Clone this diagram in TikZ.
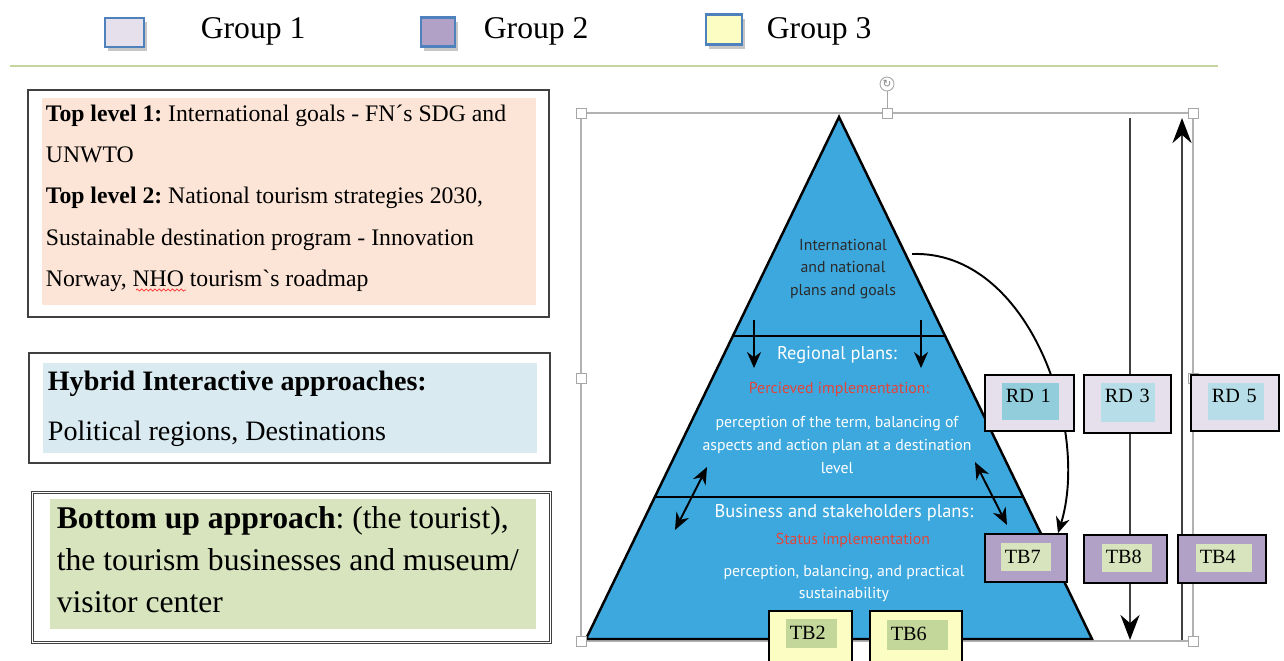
\documentclass[tikz,border=0pt]{standalone}
\usepackage{fontspec}
\setmainfont{Liberation Serif}
\newfontfamily\rawserif{Liberation Serif}[Ligatures=TeXOff]
\newfontfamily\pyrfont{PT Sans}
\newfontfamily\symfont{DejaVu Sans}
\usetikzlibrary{arrows.meta, positioning, calc, shadows, decorations.pathmorphing}
\definecolor{cpyr}{HTML}{3DA8DE}
\definecolor{cred}{HTML}{E2453A}
\definecolor{cdark}{HTML}{2B2A2A}
\definecolor{cgrpone}{HTML}{E5E0EC}
\definecolor{cgrptwo}{HTML}{B2A1C7}
\definecolor{cgrpthree}{HTML}{FCFDC2}
\definecolor{cedge}{HTML}{4F81BD}
\definecolor{crule}{HTML}{C3D69B}
\definecolor{cpeach}{HTML}{FCE4D6}
\definecolor{cice}{HTML}{D9EAF1}
\definecolor{csage}{HTML}{D7E4BD}
\definecolor{cteal}{HTML}{92CDDC}
\definecolor{caqua}{HTML}{B7DEE8}
\definecolor{colive}{HTML}{C4D79B}
\definecolor{cline}{HTML}{404040}
\newdimen\pxu \pxu=0.02cm
\frenchspacing
\tikzset{
  every picture/.style={line width=1pt},
  legendsq/.style={draw=cedge, fill=#1, line width=1.2pt, inner sep=0pt,
    drop shadow={shadow xshift=1.5pt, shadow yshift=-2.5pt, fill=black!50, opacity=0.45}},
  legendtxt/.style={font=\fontsize{18}{20}\selectfont, inner sep=0pt, anchor=base west},
  outerbox/.style={draw=cline, line width=1.1pt, inner sep=0pt},
  fillbox/.style={fill=#1, inner sep=0pt},
  boxtext/.style={inner sep=0pt, anchor=north west, align=left},
  pyrtext/.style={font=\pyrfont\fontsize{9}{13}\selectfont, text=white, align=center, inner sep=0pt},
  pyrhead/.style={pyrtext, font=\pyrfont\fontsize{10.5}{13}\selectfont},
  tagbox/.style={draw=black, line width=1pt, fill=#1, inner sep=0pt},
  tagfill/.style={fill=#1, anchor=north west, inner xsep=4\pxu, inner ysep=2\pxu, align=left,
    font=\fontsize{11.5}{13}\selectfont},
  grip/.style={draw=black!35, fill=white, line width=0.5pt, minimum size=10\pxu, inner sep=0pt},
  downtip/.style={-{Stealth[length=3.2mm, width=2.8mm]}, line width=1.1pt},
  bothtip/.style={{Stealth[length=3.4mm, width=2.8mm]}-{Stealth[length=3.4mm, width=2.8mm]}, line width=1.1pt},
  longarrow/.style={-{Stealth[length=5mm, width=3.8mm, color=black]}, draw=cline, line width=1.6pt},
}

\begin{document}
\begin{tikzpicture}[x=\pxu, y=-\pxu]
  \clip (0,0) rectangle (1284,660);
  % legend
  \node[legendsq=cgrpone, minimum width=39\pxu, minimum height=29\pxu] (sq1) at (124.5,32.5) {};
  \node[legendsq=cgrptwo, minimum width=34\pxu, minimum height=29\pxu] (sq2) at (438,32) {};
  \node[legendsq=cgrpthree, minimum width=36\pxu, minimum height=30\pxu] (sq3) at (724,29.5) {};
  \node[legendtxt] (g1) at (200,38) {Group 1};
  \node[legendtxt] (g2) at (483,38) {Group 2};
  \node[legendtxt] (g3) at (766,38) {Group 3};
  \draw[crule, line width=1.2pt] (10,66) -- (1218,66);

  % left column
  \node[outerbox, minimum width=521\pxu, minimum height=227\pxu] (topbox) at (288.5,203.5) {};
  \node[fillbox=cpeach, minimum width=494\pxu, minimum height=207\pxu] (topfill) at (289,201.5) {};
  \node[boxtext, font=\fontsize{13.5}{23.5}\selectfont] (toptext) at (45,104)
    {\textbf{Top level 1:} International goals - FN´s SDG and\\ UNWTO\\
     \textbf{Top level 2:} National tourism strategies 2030,\\
     Sustainable destination program - Innovation\\
     Norway, NHO tourism{\rawserif`}s roadmap};
  \draw[red!80, line width=0.4pt, decorate, decoration={snake, amplitude=0.6pt, segment length=2.5pt}] (136,290) -- (186,290);
  \node[outerbox, minimum width=521\pxu, minimum height=110\pxu] (hybbox) at (289.5,408) {};
  \node[fillbox=cice, minimum width=494\pxu, minimum height=90\pxu] (hybfill) at (290,408) {};
  \node[boxtext, font=\fontsize{16}{28.5}\selectfont] (hybtext) at (47,370)
    {\textbf{Hybrid Interactive approaches:}\\ Political regions, Destinations};
  \node[outerbox, double=white, double distance=0.6pt, line width=0.7pt,
    minimum width=518\pxu, minimum height=150\pxu] (botbox) at (291.5,567.5) {};
  \node[fillbox=csage, minimum width=486\pxu, minimum height=130\pxu] (botfill) at (293,564) {};
  \node[boxtext, font=\fontsize{18}{23.9}\selectfont] (bottext) at (56,506)
    {\textbf{Bottom up approach}: (the tourist),\\ the tourism businesses and museum/\\ visitor center};

  % selection frame
  \draw[black!30, line width=0.6pt] (581,113) rectangle (1193,641);

  % pyramid
  \coordinate (apex) at (839,117);
  \coordinate (bl) at (586,639);
  \coordinate (br) at (1092,639);
  \draw[fill=cpyr, line width=1.4pt] (apex) -- (br) -- (bl) -- cycle;
  \draw[line width=1.1pt] ($(apex)!0.4195!(bl)$) -- ($(apex)!0.4195!(br)$);
  \draw[line width=1.1pt] ($(apex)!0.728!(bl)$) -- ($(apex)!0.728!(br)$);
  \node[pyrtext, text=cdark] (intl) at (843,269) {International\\ and national\\ plans and goals};
  \node[pyrhead] (regional) at (837,355) {Regional plans:};
  \node[pyrtext, text=cred] (perc) at (839,389) {Percieved implementation:};
  \node[pyrtext] (percbody) at (837,445) {perception of the term, balancing of\\ aspects and action plan at a destination\\ level};
  \node[pyrhead] (business) at (844,513) {Business and stakeholders plans:};
  \node[pyrtext, text=cred] (status) at (853,540) {Status implementation};
  \node[pyrtext] (statbody) at (844,583.5) {perception, balancing, and practical\\ sustainability};

  \coordinate (dl1) at (754,320); \coordinate (dl2) at (754,368);
  \coordinate (dr1) at (921,320); \coordinate (dr2) at (921,368);
  \draw[downtip] (dl1) -- (dl2);
  \draw[downtip] (dr1) -- (dr2);
  \coordinate (bl1) at (707,467); \coordinate (bl2) at (675,530);
  \coordinate (br1) at (975,462); \coordinate (br2) at (1007,525);
  \draw[bothtip] (bl1) -- (bl2);
  \draw[bothtip] (br1) -- (br2);

  % handles of the frame
  \foreach \hx/\hy in {581/113, 887/113, 1193/113, 581/378, 1193/378, 581/641, 1193/641}
    \node[grip] (h-\hx-\hy) at (\hx,\hy) {};
  \node[grip, circle, minimum size=14\pxu] (rot) at (887,84) {\symfont\fontsize{6}{6}\selectfont\textcolor{black!50}{↻}};
  \draw[black!35, line width=0.5pt] (rot) -- (h-887-113);

  % long arrows on the right
  \coordinate (downtop) at (1130,118); \coordinate (downend) at (1130,640);
  \coordinate (upbot) at (1182,640); \coordinate (uptop) at (1182,118);
  \draw[longarrow] (downtop) -- (downend);
  \draw[longarrow] (upbot) -- (uptop);

  % group 2 and group 3 tags
  \node[tagbox=cgrptwo, minimum width=82\pxu, minimum height=48\pxu] (tb7) at (1026,558) {};
  \node[tagfill=csage, text width=42\pxu, text height=19\pxu, text depth=5\pxu] (tb7t) at (1000,542) {TB7};
  \node[tagbox=cgrptwo, minimum width=83\pxu, minimum height=48\pxu] (tb8) at (1125.5,559) {};
  \node[tagfill=csage, text width=42\pxu, text height=18\pxu, text depth=6\pxu] (tb8t) at (1101,543) {TB8};
  \node[tagbox=cgrptwo, minimum width=88\pxu, minimum height=48\pxu] (tb4) at (1222,559) {};
  \node[tagfill=csage, text width=48\pxu, text height=18\pxu, text depth=6\pxu] (tb4t) at (1195,543) {TB4};
  \node[tagbox=cgrpthree, minimum width=83\pxu, minimum height=89\pxu] (tb2) at (810.5,655.5) {};
  \node[tagfill=colive, text width=43\pxu, text height=19\pxu, text depth=6\pxu] (tb2t) at (785,618) {TB2};
  \node[tagbox=cgrpthree, minimum width=92\pxu, minimum height=89\pxu] (tb6) at (916,655.5) {};
  \node[tagfill=colive, text width=53\pxu, text height=19\pxu, text depth=7\pxu] (tb6t) at (886,619) {TB6};

  \coordinate (curvestart) at (912,254);
  \draw[downtip] (curvestart) .. controls (1030,250) and (1090,430) .. ($(tb7.north)+(32,0)$);

  % group 1 tags
  \node[tagbox=cgrpone, minimum width=89\pxu, minimum height=56\pxu] (rd1) at (1029.5,403) {};
  \node[tagfill=cteal, text width=49\pxu, text height=18\pxu, text depth=15\pxu] (rd1t) at (1001,382) {RD 1};
  \node[tagbox=cgrpone, minimum width=87\pxu, minimum height=58\pxu] (rd3) at (1127.5,404) {};
  \node[tagfill=caqua, text width=46\pxu, text height=18\pxu, text depth=17\pxu] (rd3t) at (1100,382) {RD 3};
  \node[tagbox=cgrpone, minimum width=88\pxu, minimum height=56\pxu] (rd5) at (1235,403) {};
  \node[tagfill=caqua, text width=48\pxu, text height=18\pxu, text depth=15\pxu] (rd5t) at (1207,382) {RD 5};
\end{tikzpicture}
\end{document}
